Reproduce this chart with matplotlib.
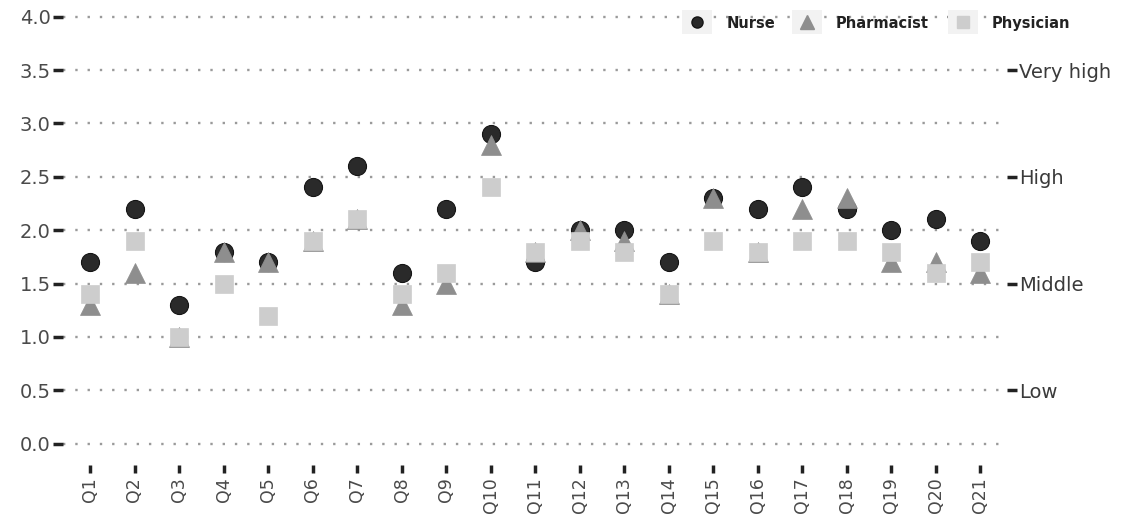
import matplotlib
matplotlib.use("Agg")
import matplotlib.pyplot as plt
from matplotlib.lines import Line2D
from matplotlib.patches import Rectangle

plt.rcParams['font.family'] = ['DejaVu Sans']

questions = [f"Q{i}" for i in range(1, 22)]
nurse = [1.7, 2.2, 1.3, 1.8, 1.7, 2.4, 2.6, 1.6, 2.2, 2.9, 1.7, 2.0, 2.0, 1.7, 2.3, 2.2, 2.4, 2.2, 2.0, 2.1, 1.9]
pharmacist = [1.3, 1.6, 1.0, 1.8, 1.7, 1.9, 2.1, 1.3, 1.5, 2.8, 1.8, 2.0, 1.9, 1.4, 2.3, 1.8, 2.2, 2.3, 1.7, 1.7, 1.6]
physician = [1.4, 1.9, 1.0, 1.5, 1.2, 1.9, 2.1, 1.4, 1.6, 2.4, 1.8, 1.9, 1.8, 1.4, 1.9, 1.8, 1.9, 1.9, 1.8, 1.6, 1.7]
y_ticks = [0.0, 0.5, 1.0, 1.5, 2.0, 2.5, 3.0, 3.5, 4.0]
right_ticks = [0.5, 1.5, 2.5, 3.5]
right_labels = ["Low", "Middle", "High", "Very high"]
series_names = ['Nurse', 'Pharmacist', 'Physician']

W, H = 1144, 514
fig = plt.figure(figsize=(W / 100, H / 100), dpi=100)
ax = fig.add_axes([63.3 / W, (H - 465) / H, (1006.7 - 63.3) / W, (465 - 6) / H])
x = list(range(len(questions)))

for yv in y_ticks:
    ax.axhline(yv, color='#9a9a9a', lw=1.7, linestyle=(0, (1, 4.2)), zorder=1)

c_n, c_ph, c_py = '#2a2a2a', '#8e8e8e', '#cdcdcd'
ax.plot(x, nurse, 'o', ms=13, color=c_n, mec='#151515', mew=0.8, zorder=3)
ax.plot(x, pharmacist, '^', ms=15, color=c_ph, mec=c_ph, mew=0.5, zorder=4)
ax.plot(x, physician, 's', ms=12.5, color=c_py, mec=c_py, mew=0.5, zorder=5)

ax.set_xlim(-0.6, len(questions) - 0.4)
ax.set_ylim(-0.2, 4.1)
ax.set_yticks(y_ticks)
ax.set_yticklabels([f"{v:.1f}" for v in y_ticks])
ax.set_xticks(x)
ax.set_xticklabels(questions, rotation=90)
for s in ax.spines.values():
    s.set_visible(False)
ax.tick_params(axis='y', length=7, width=2.5, color='#222222', labelsize=14, labelcolor='#4a4a4a', pad=2)
ax.tick_params(axis='x', length=6, width=2.5, color='#222222', labelsize=12.5, labelcolor='#4a4a4a', pad=3)
for t in ax.get_xticklabels():
    t.set_va('top')

ax2 = ax.twinx()
ax2.set_ylim(ax.get_ylim())
ax2.set_yticks(right_ticks)
ax2.set_yticklabels(right_labels)
for s in ax2.spines.values():
    s.set_visible(False)
ax2.tick_params(axis='y', length=7, width=2.5, color='#222222', labelsize=14, labelcolor='#3a3a3a', pad=2)

# legend (manual, ggplot-like keys with grey background)
def fx(px):
    return px / W

def fy(py):
    return (H - py) / H

key_centers = [697, 807, 963]
text_x = [727, 836, 992]
markers = [('o', 8, c_n, '#151515'), ('^', 10, c_ph, c_ph), ('s', 8, c_py, c_py)]
ly = 22
for cx, tx, (m, ms, fc, ec), name in zip(key_centers, text_x, markers, series_names):
    fig.add_artist(Rectangle((fx(cx - 15), fy(ly + 12)), 30 / W, 24 / H,
                             transform=fig.transFigure, facecolor='#f2f2f2', edgecolor='none'))
    fig.add_artist(Line2D([fx(cx)], [fy(ly)], marker=m, ms=ms, color=fc, mec=ec,
                          ls='', transform=fig.transFigure))
    fig.text(fx(tx), fy(ly), name, fontsize=10.5, fontweight='bold', color='#222222',
             ha='left', va='center_baseline')

fig.savefig('out.png', dpi=100)
